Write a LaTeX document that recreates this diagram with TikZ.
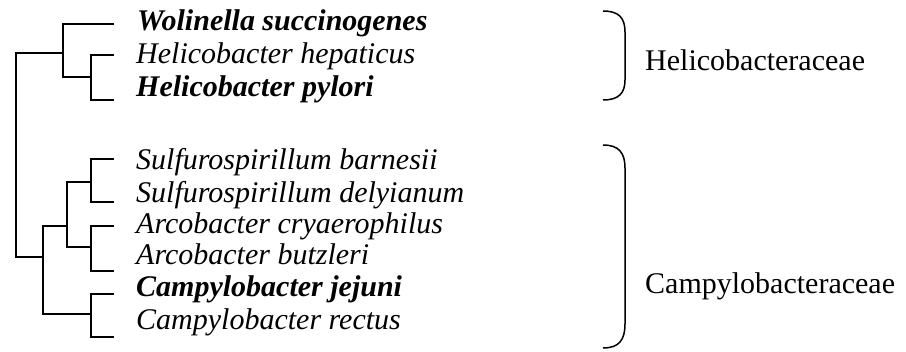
\documentclass[tikz,border=0pt]{standalone}
\usepackage{fontspec}
\setmainfont{Liberation Serif}
\begin{document}
\begin{tikzpicture}[x=1pt,y=-1pt,
  branch/.style={line width=1.9pt},
  leaf/.style={anchor=base west,inner sep=0pt,font=\fontsize{30}{34}\selectfont\itshape},
  leafb/.style={leaf,font=\fontsize{30}{34}\selectfont\bfseries\itshape},
  family/.style={anchor=base west,inner sep=0pt,font=\fontsize{30}{34}\selectfont},
  bracket/.style={line width=1.5pt}]
\useasboundingbox (0,0) rectangle (906,352);
% tips
\coordinate (tW) at (114,24);
\coordinate (tHh) at (114,55);
\coordinate (tHp) at (114,100);
\coordinate (tSb) at (114,159);
\coordinate (tSd) at (114,202);
\coordinate (tAc) at (114,226);
\coordinate (tAb) at (114,271);
\coordinate (tCj) at (114,294);
\coordinate (tCr) at (114,337);
% internal nodes
\coordinate (nHel2) at (91,77);
\coordinate (nHel) at (63,53);
\coordinate (nSulf) at (91,182);
\coordinate (nArco) at (91,247);
\coordinate (nSA) at (67,226);
\coordinate (nCamp) at (91,314);
\coordinate (nCampy) at (43,257);
\coordinate (root) at (16,155);
% branches
\draw[branch] (tHh) -| (nHel2) |- (tHp);
\draw[branch] (tW) -| (nHel) |- (nHel2);
\draw[branch] (nHel) -| (root) |- (nCampy);
\draw[branch] (tSb) -| (nSulf) |- (tSd);
\draw[branch] (tAc) -| (nArco) |- (tAb);
\draw[branch] (nSulf) -| (nSA) |- (nArco);
\draw[branch] (tCj) -| (nCamp) |- (tCr);
\draw[branch] (nSA) -| (nCampy) |- (nCamp);
% labels
\node[leafb] (lW) at (137,31) {Wolinella succinogenes};
\node[leaf]  (lHh) at (136,64) {Helicobacter hepaticus};
\node[leafb] (lHp) at (136,97) {Helicobacter pylori};
\node[leaf]  (lSb) at (136,170) {Sulfurospirillum barnesii};
\node[leaf]  (lSd) at (136,202.5) {Sulfurospirillum delyianum};
\node[leaf]  (lAc) at (136,233.5) {Arcobacter cryaerophilus};
\node[leaf]  (lAb) at (136,264.5) {Arcobacter butzleri};
\node[leafb] (lCj) at (136,296.5) {Campylobacter jejuni};
\node[leaf]  (lCr) at (136,330) {Campylobacter rectus};
% brackets
\draw[bracket] (603,11) .. controls (619,11) and (625,18) .. (625,32)
  -- (625,80) .. controls (625,93) and (619,100) .. (603,100);
\draw[bracket] (603,145) .. controls (619,145) and (625,153) .. (625,168)
  -- (625,324) .. controls (625,340) and (619,348) .. (603,348);
\node[family] (fH) at (645,71) {Helicobacteraceae};
\node[family] (fC) at (645,293.5) {Campylobacteraceae};
\end{tikzpicture}
\end{document}
